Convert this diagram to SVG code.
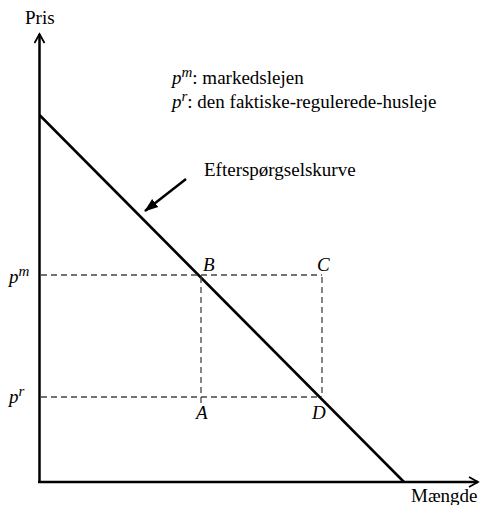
<svg xmlns="http://www.w3.org/2000/svg" width="484" height="505" viewBox="0 0 484 505">
<style>
text{font-family:'Liberation Serif','DejaVu Serif','Times New Roman',serif;font-size:19px;fill:#000}
.it{font-style:italic}
.sup{font-size:15px}
.axis{stroke:#000;stroke-width:2.5;fill:none}
.dash{stroke:#444;stroke-width:1.3;stroke-dasharray:6,4;fill:none}
</style>
<defs>
<marker id="open" markerWidth="12" markerHeight="12" refX="10" refY="6" orient="auto" markerUnits="userSpaceOnUse">
<path d="M1,1 L10,6 L1,11" fill="none" stroke="#000" stroke-width="1.8"/>
</marker>
<marker id="solid" markerWidth="14" markerHeight="12" refX="13" refY="6" orient="auto" markerUnits="userSpaceOnUse">
<path d="M0,1 L14,6 L0,11 Z" fill="#000"/>
</marker>
</defs>
<rect width="484" height="505" fill="#fff"/>
<g id="connectors">
<line class="axis" x1="39.5" y1="483" x2="39.5" y2="34" marker-end="url(#open)"/>
<line class="axis" x1="38" y1="482" x2="478" y2="482" marker-end="url(#open)"/>
<line class="axis" x1="39.5" y1="115" x2="404" y2="482"/>
<line class="dash" x1="41" y1="275" x2="322" y2="275"/>
<line class="dash" x1="41" y1="397" x2="322" y2="397"/>
<line class="dash" x1="201" y1="277" x2="201" y2="403"/>
<line class="dash" x1="322" y1="277" x2="322" y2="397"/>
<line x1="186" y1="179" x2="145" y2="211" stroke="#000" stroke-width="2.5" marker-end="url(#solid)"/>
</g>
<g id="axis-labels">
<text x="25" y="24" font-size="18">Pris</text>
<text x="411" y="502">Mængde</text>
</g>
<g id="legend">
<text x="172" y="84"><tspan class="it">p</tspan><tspan class="it sup" dy="-7">m</tspan><tspan dy="7">: markedslejen</tspan></text>
<text x="172" y="108"><tspan class="it">p</tspan><tspan class="it sup" dy="-7">r</tspan><tspan dy="7">: den faktiske-regulerede-husleje</tspan></text>
</g>
<g id="curve-label">
<text x="204" y="176" font-size="18.5">Efterspørgselskurve</text>
</g>
<g id="price-labels">
<text x="9" y="283"><tspan class="it">p</tspan><tspan class="it sup" dy="-7">m</tspan></text>
<text x="9" y="403"><tspan class="it">p</tspan><tspan class="it sup" dy="-7">r</tspan></text>
</g>
<g id="points">
<text class="it" x="203" y="271">B</text>
<text class="it" x="317" y="271">C</text>
<text class="it" x="196" y="419">A</text>
<text class="it" x="312" y="419">D</text>
</g>
</svg>
